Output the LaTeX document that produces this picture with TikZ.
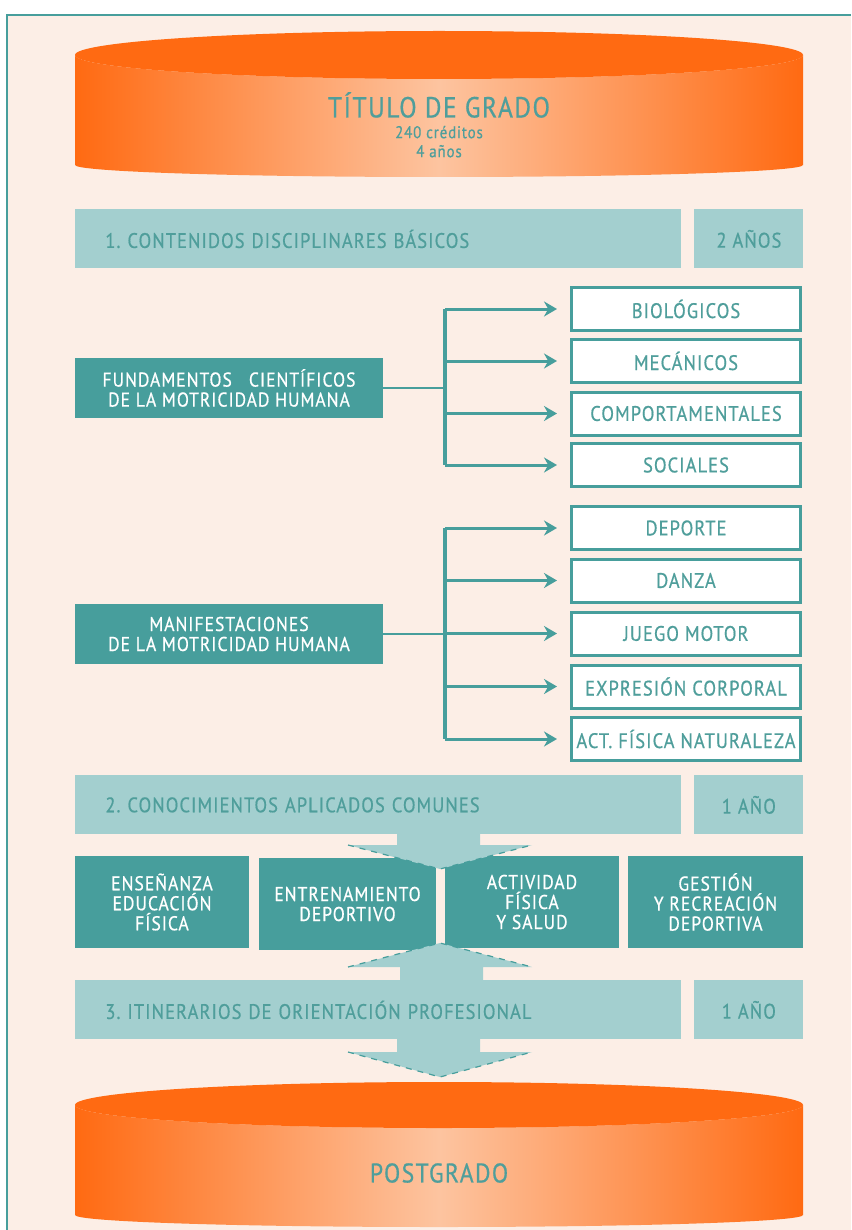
\documentclass[tikz,border=0pt]{standalone}
\usepackage{fontspec}
\setmainfont{PT Sans}[FakeStretch=0.88,LetterSpace=5,FakeBold=0.6]
\usetikzlibrary{arrows.meta,positioning}
\definecolor{fondo}{HTML}{FCEEE6}
\definecolor{tealosc}{HTML}{479E9C}
\definecolor{tealcla}{HTML}{A3CFCF}
\definecolor{textoteal}{HTML}{4F9E9B}
\definecolor{naranja}{HTML}{FF6A12}
\definecolor{naranjacl}{HTML}{FDC4A0}
\frenchspacing

\begin{document}
\begin{tikzpicture}[x=0.5pt,y=-0.5pt,
    barra/.style={fill=tealcla,text=textoteal,font=\fontsize{10.5}{12}\selectfont,inner sep=0pt,minimum height=29.5pt},
    caja/.style={fill=tealosc,text=white,font=\fontsize{10}{10}\selectfont,align=center,inner sep=0pt},
    item/.style={draw=tealosc,line width=1.5pt,fill=white,text=textoteal,font=\fontsize{10.5}{12}\selectfont,minimum width=114.5pt,minimum height=21.5pt,inner sep=0pt},
    rama/.style={tealosc,line width=1.5pt,-{Stealth[length=6.5pt,width=7.5pt]}},
    tronco/.style={tealosc,line width=2pt},
    flecha/.style={fill=tealcla},
    borde/.style={tealosc,dashed,line width=0.6pt}]
  \useasboundingbox (0,0) rectangle (851,1230);
  \fill[white] (0,0) rectangle (851,1230);
  \fill[fondo] (7,15) rectangle (851,1230);
  \draw[tealosc,line width=1pt] (7,1230) -- (7,15) -- (851,15);

  % cilindro superior
  \shade[left color=naranja,right color=naranja,middle color=naranjacl]
    (75,55) -- (75,165) arc[start angle=180,end angle=360,x radius=182pt,y radius=6pt]
    -- (803,55) arc[start angle=360,end angle=180,x radius=182pt,y radius=12pt] -- cycle;
  \fill[naranja] (439,55) ellipse[x radius=182pt,y radius=12pt];
  \node[text=textoteal,align=center,font=\fontsize{14.5}{15}\selectfont] (titulo) at (439,105) {TÍTULO DE GRADO};
  \node[text=textoteal,align=center,font=\fontsize{8.5}{9.5}\selectfont,below=-3pt of titulo] (creditos) {240 créditos\\4 años};

  % bloque 1
  \node[barra,anchor=north west,minimum width=303pt,text width=273pt,inner xsep=15pt,align=left] (cont) at (75,209) {1. CONTENIDOS DISCIPLINARES BÁSICOS};
  \node[barra,anchor=north west,minimum width=54.5pt] (anos1) at (694,209) {2 AÑOS};

  \node[caja,minimum width=154pt,minimum height=30pt] (fund) at (229,388) {FUNDAMENTOS~~ CIENTÍFICOS\\DE LA MOTRICIDAD HUMANA};
  \node[item] (bio) at (686,309) {BIOLÓGICOS};
  \node[item] (mec) at (686,361) {MECÁNICOS};
  \node[item] (com) at (686,413.5) {COMPORTAMENTALES};
  \node[item] (soc) at (686,465) {SOCIALES};
  \coordinate (tr1) at (445,388);
  \draw[tealosc,line width=1pt] (fund.east) -- (tr1);
  \draw[tronco] (tr1 |- bio.west) -- (tr1 |- soc.west);
  \foreach \n in {bio,mec,com,soc}
    \draw[rama] (tr1 |- \n.west) -- ([xshift=-6.5pt]\n.west);

  \node[caja,minimum width=154pt,minimum height=30pt] (mani) at (229,634) {MANIFESTACIONES\\DE LA MOTRICIDAD HUMANA};
  \node[item] (dep) at (686,528) {DEPORTE};
  \node[item] (dan) at (686,580.5) {DANZA};
  \node[item] (jue) at (686,633.5) {JUEGO MOTOR};
  \node[item] (exp) at (686,686.5) {EXPRESIÓN CORPORAL};
  \node[item] (act) at (686,739) {ACT. FÍSICA NATURALEZA};
  \coordinate (tr2) at (445,634);
  \draw[tealosc,line width=1pt] (mani.east) -- (tr2);
  \draw[tronco] (tr2 |- dep.west) -- (tr2 |- act.west);
  \foreach \n in {dep,dan,jue,exp,act}
    \draw[rama] (tr2 |- \n.west) -- ([xshift=-6.5pt]\n.west);

  % bloque 2
  \node[barra,anchor=north west,minimum width=303pt,text width=273pt,inner xsep=15pt,align=left] (apli) at (75,775) {2. CONOCIMIENTOS APLICADOS COMUNES};
  \node[barra,anchor=north west,minimum width=54.5pt] (anos2) at (694,775) {1 AÑO};

  \node[caja,minimum width=87pt,minimum height=46pt] (ense) at (162,902) {ENSEÑANZA\\EDUCACIÓN\\FÍSICA};
  \node[caja,minimum width=88.5pt,minimum height=46pt] (entr) at (347.5,904) {ENTRENAMIENTO\\DEPORTIVO};
  \node[caja,minimum width=87pt,minimum height=46pt] (salud) at (532,902) {ACTIVIDAD\\FÍSICA\\Y SALUD};
  \node[caja,minimum width=87.5pt,minimum height=46pt] (gest) at (715.5,902) {GESTIÓN\\Y RECREACIÓN\\DEPORTIVA};

  % bloque 3
  \node[barra,anchor=north west,minimum width=303pt,text width=273pt,inner xsep=15pt,align=left] (itin) at (75,980) {3. ITINERARIOS DE ORIENTACIÓN PROFESIONAL};
  \node[barra,anchor=north west,minimum width=54.5pt] (anos3) at (694,980) {1 AÑO};

  % flechas grandes
  \fill[flecha] (397,833) -- (480,833) -- (480,845) -- (532,845) -- (440,869) -- (348,845) -- (397,845) -- cycle;
  \draw[borde] (348,845) -- (440,869) -- (532,845);
  \fill[flecha] (400,980) -- (483,980) -- (483,967) -- (532,967) -- (440,943) -- (348,967) -- (400,967) -- cycle;
  \draw[borde] (348,967) -- (440,943) -- (532,967);
  \fill[flecha] (397,1036) -- (480,1036) -- (480,1052) -- (532,1052) -- (440,1077) -- (348,1052) -- (397,1052) -- cycle;
  \draw[borde] (348,1052) -- (440,1077) -- (532,1052);

  % cilindro inferior
  \shade[left color=naranja,right color=naranja,middle color=naranjacl]
    (75,1105) -- (75,1215) arc[start angle=180,end angle=360,x radius=182pt,y radius=6pt]
    -- (803,1105) arc[start angle=360,end angle=180,x radius=182pt,y radius=11.5pt] -- cycle;
  \fill[naranja] (439,1105) ellipse[x radius=182pt,y radius=11.5pt];
  \node[text=textoteal,font=\fontsize{13.5}{14}\selectfont] (post) at (439,1173) {POSTGRADO};
\end{tikzpicture}
\end{document}
